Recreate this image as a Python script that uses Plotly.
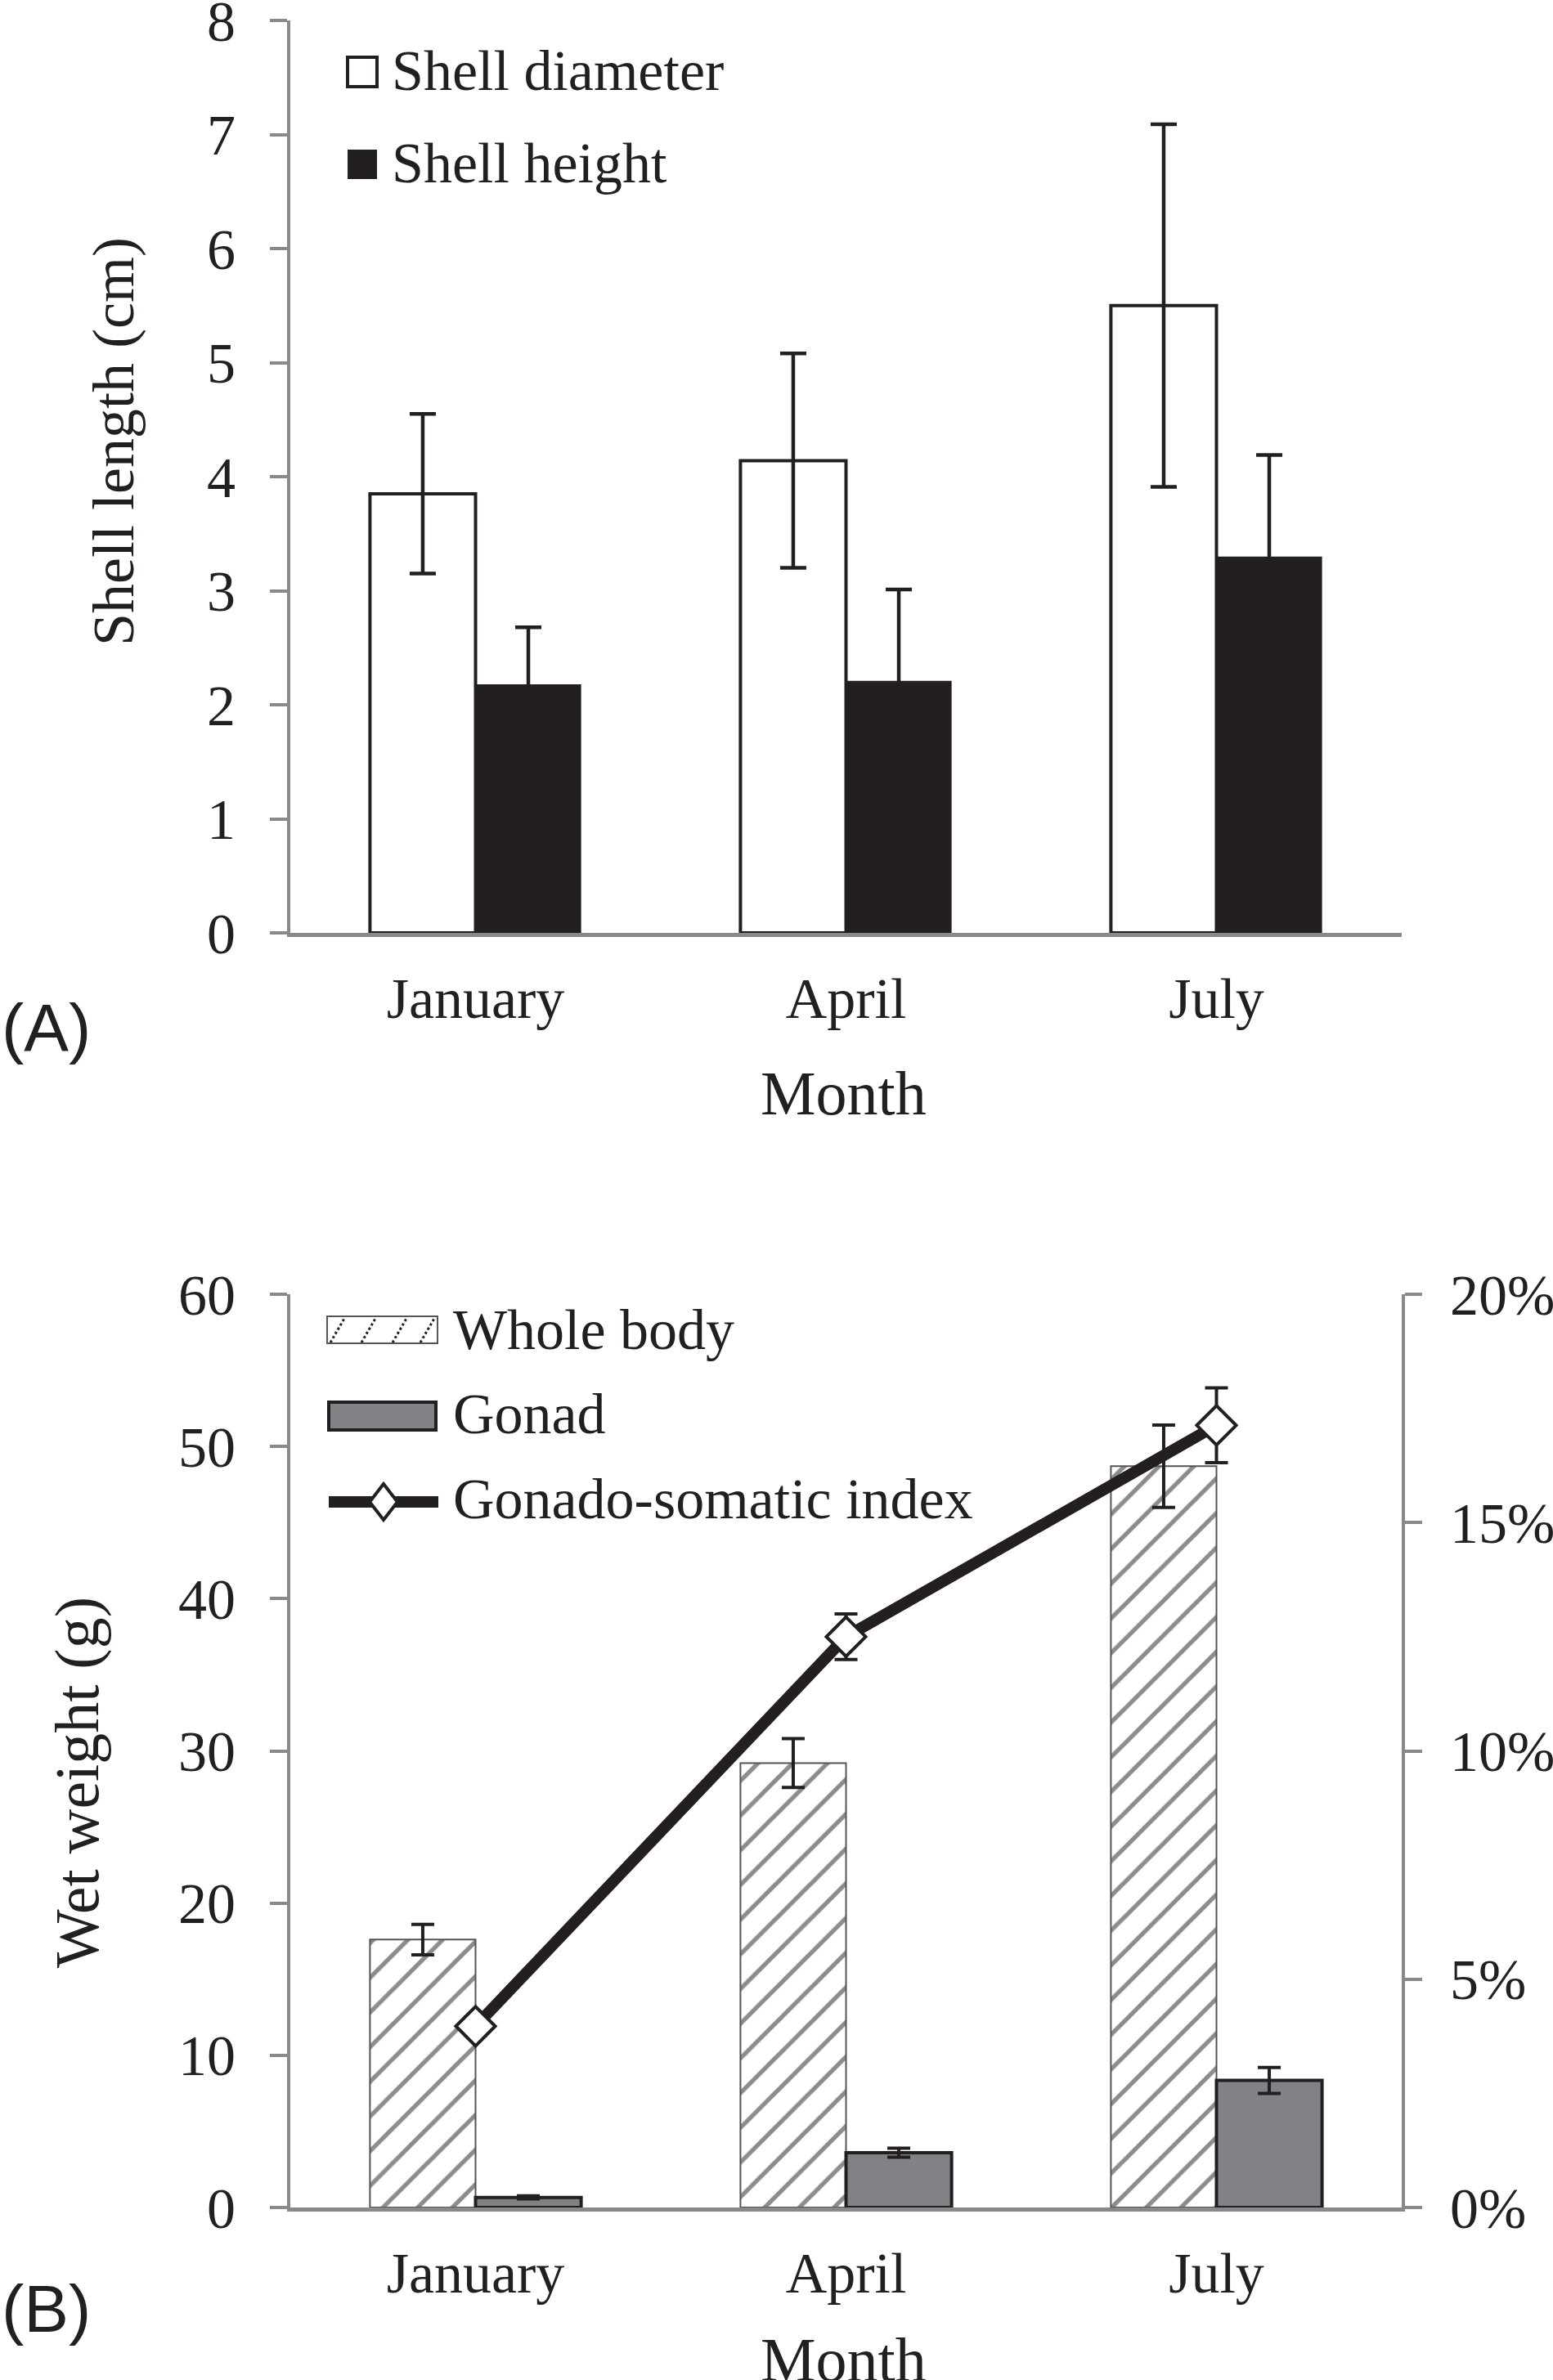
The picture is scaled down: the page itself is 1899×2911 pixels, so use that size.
import plotly.graph_objects as go

W, H = 1899, 2911

# data
months = ["January", "April", "July"]

shell_diameter = [3.85, 4.14, 5.50]
shell_diameter_sd = [0.70, 0.94, 1.59]
shell_height = [2.18, 2.21, 3.30]
shell_height_sd = [0.50, 0.80, 0.89]

whole_body = [17.6, 29.2, 48.7]
whole_body_sd = [1.0, 1.6, 2.7]
gonad = [0.66, 3.6, 8.35]
gonad_sd = [0.1, 0.3, 0.85]
gsi = [0.0397, 0.125, 0.1713]
gsi_sd = [0.002, 0.005, 0.0082]

INK = "#231f20"
AXIS = "#898989"
SERIF = "Liberation Serif"


def px(x):
    return x / W


def py(y):
    return 1 - y / H


fig = go.Figure()

# (A) shell length
fig.add_trace(go.Bar(
    x=months, y=shell_diameter, name="Shell diameter",
    marker=dict(color="white", line=dict(color=INK, width=4)),
    error_y=dict(type="data", array=shell_diameter_sd, color=INK, thickness=4.5, width=16),
    xaxis="x", yaxis="y", showlegend=False))
fig.add_trace(go.Bar(
    x=months, y=shell_height, name="Shell height",
    marker=dict(color=INK, line=dict(color=INK, width=0)),
    error_y=dict(type="data", array=shell_height_sd, color=INK, thickness=4.5, width=16),
    xaxis="x", yaxis="y", showlegend=False))

# (B) wet weight + GSI
fig.add_trace(go.Bar(
    x=months, y=whole_body, name="Whole body",
    marker=dict(color="white", line=dict(color="#555555", width=2),
                pattern=dict(shape="/", fgcolor="#1a1a1a", bgcolor="white", size=30, solidity=0.18)),
    error_y=dict(type="data", array=whole_body_sd, color=INK, thickness=4, width=14),
    xaxis="x2", yaxis="y2", showlegend=False))
fig.add_trace(go.Bar(
    x=months, y=gonad, name="Gonad",
    marker=dict(color="#808285", line=dict(color=INK, width=4)),
    error_y=dict(type="data", array=gonad_sd, color=INK, thickness=4, width=14),
    xaxis="x2", yaxis="y2", showlegend=False))
fig.add_trace(go.Scatter(
    x=months, y=gsi, name="Gonado-somatic index", mode="lines+markers",
    line=dict(color=INK, width=14),
    marker=dict(symbol="diamond", size=37, color="white", line=dict(color=INK, width=4)),
    error_y=dict(type="data", array=gsi_sd, color=INK, thickness=4, width=14),
    xaxis="x2", yaxis="y3", showlegend=False))

tick_font = dict(family=SERIF, size=70, color=INK)
xdom = [px(355), px(1714)]

common_x = dict(domain=xdom, showgrid=False, showline=True, linecolor=AXIS, linewidth=5,
                ticks="", tickfont=tick_font, ticklabelstandoff=15, zeroline=False,
                automargin=False, ticklabeloverflow="allow")
common_y = dict(showgrid=False, showline=True, linecolor=AXIS, linewidth=4,
                ticks="outside", ticklen=21, tickwidth=4, tickcolor=AXIS,
                tickfont=tick_font, ticklabelstandoff=28, zeroline=False,
                automargin=False, ticklabeloverflow="allow")

fig.update_layout(
    width=W, height=H, autosize=False,
    margin=dict(l=0, r=0, t=0, b=0, pad=0),
    paper_bgcolor="white", plot_bgcolor="white",
    barmode="group", bargap=0.43, bargroupgap=0,
    showlegend=False,
    xaxis=dict(common_x, anchor="y"),
    yaxis=dict(common_y, domain=[py(1141), py(25)], anchor="x", range=[0, 8], dtick=1),
    xaxis2=dict(common_x, anchor="y2"),
    yaxis2=dict(common_y, domain=[py(2700), py(1583)], anchor="x2", range=[0, 60], dtick=10),
    yaxis3=dict(common_y, overlaying="y2", anchor="x2", side="right", ticklabelstandoff=20,
                range=[0, 0.2], dtick=0.05, tickformat=".0%"),
)

annotations = [
    dict(text="Shell length (cm)", x=px(139), y=py(540), textangle=-90,
         font=dict(family=SERIF, size=72, color=INK)),
    dict(text="Month", x=px(1031), y=py(1337), font=dict(family=SERIF, size=76, color=INK)),
    dict(text="(A)", x=0, y=py(1256), xanchor="left", font=dict(family="Liberation Sans", size=82, color=INK)),
    dict(text="Wet weight (g)", x=px(94), y=py(2180), textangle=-90,
         font=dict(family=SERIF, size=76, color=INK)),
    dict(text="Month", x=px(1031), y=py(2886), font=dict(family=SERIF, size=76, color=INK)),
    dict(text="(B)", x=0, y=py(2823), xanchor="left", font=dict(family="Liberation Sans", size=82, color=INK)),
    # legend texts
    dict(text="Shell diameter", x=px(477), y=py(86), xanchor="left", font=dict(family=SERIF, size=70, color=INK)),
    dict(text="Shell height", x=px(477), y=py(199), xanchor="left", font=dict(family=SERIF, size=70, color=INK)),
    dict(text="Whole body", x=px(552), y=py(1626), xanchor="left", font=dict(family=SERIF, size=70, color=INK)),
    dict(text="Gonad", x=px(552), y=py(1729), xanchor="left", font=dict(family=SERIF, size=70, color=INK)),
    dict(text="Gonado-somatic index", x=px(552), y=py(1833), xanchor="left",
         font=dict(family=SERIF, size=70, color=INK)),
]
for a in annotations:
    a.update(xref="paper", yref="paper", showarrow=False)
    a.setdefault("xanchor", "center")
    a.setdefault("yanchor", "middle")
fig.update_layout(annotations=annotations)

# legend keys drawn as shapes
shapes = [
    dict(type="rect", x0=px(425), x1=px(461), y0=py(106), y1=py(70),
         fillcolor="white", line=dict(color=INK, width=4)),
    dict(type="rect", x0=px(425), x1=px(461), y0=py(219), y1=py(183),
         fillcolor=INK, line=dict(color=INK, width=0)),
    dict(type="rect", x0=px(400), x1=px(535), y0=py(1643), y1=py(1610),
         fillcolor="white", line=dict(color="#555555", width=2)),
    dict(type="rect", x0=px(402), x1=px(533), y0=py(1749), y1=py(1715),
         fillcolor="#808285", line=dict(color=INK, width=4)),
    dict(type="line", x0=px(402), x1=px(536), y0=py(1837), y1=py(1837),
         line=dict(color=INK, width=14)),
    dict(type="path",
         path="M {a},{b} L {c},{d} L {a},{e} L {f},{d} Z".format(
             a=px(469), b=py(1815), c=px(486), d=py(1837), e=py(1859), f=px(452)),
         fillcolor="white", line=dict(color=INK, width=4)),
]
for xb in [404, 442, 480, 514]:
    shapes.append(dict(type="line", x0=px(xb), y0=py(1642), x1=px(xb + 18), y1=py(1611),
                       line=dict(color="#222222", width=3, dash="dot")))
for s in shapes:
    s.update(xref="paper", yref="paper")
fig.update_layout(shapes=shapes)

# drop the default 8px body margin so the figure sits at the page origin
fig.write_html("out.html", config={"displayModeBar": False},
               post_script="document.body.style.margin = '0';")
